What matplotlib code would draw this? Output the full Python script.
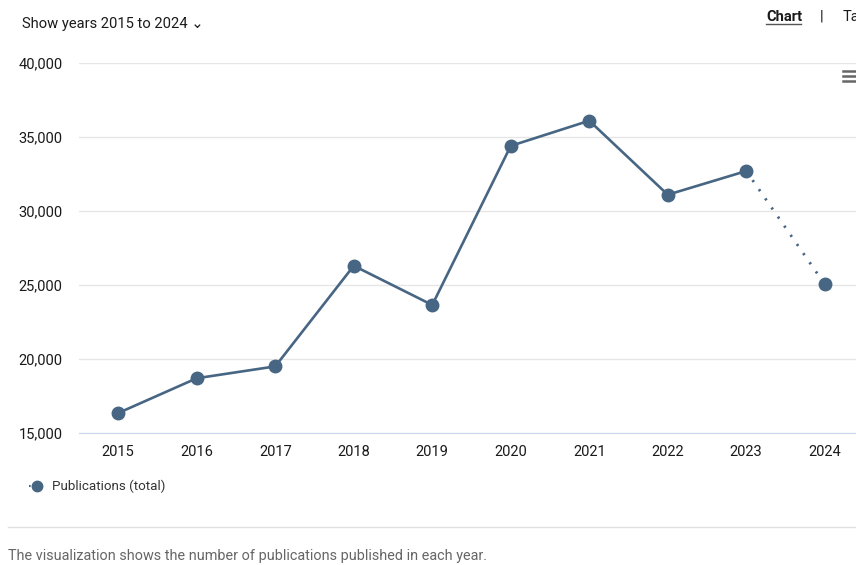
import matplotlib.pyplot as plt
from matplotlib.lines import Line2D

plt.rcParams['font.family'] = ['Roboto', 'DejaVu Sans']

# data
years = ["2015", "2016", "2017", "2018", "2019", "2020", "2021", "2022", "2023", "2024"]
publications = [16350, 18700, 19500, 26300, 23650, 34400, 36100, 31100, 32700, 25050]
y_ticks = [15000, 20000, 25000, 30000, 35000, 40000]

col = '#476683'
x = list(range(len(years)))

fig = plt.figure(figsize=(8.56, 5.65), dpi=100)
ax = fig.add_axes([79 / 856, 132 / 565, 785 / 856, 370 / 565])

# solid part up to 2023, dotted to the last (incomplete) year
ax.plot(x[:-1], publications[:-1], color=col, lw=1.9, zorder=3)
ax.plot(x[-2:], publications[-2:], color=col, lw=2, ls=(0, (0.8, 3.2)), zorder=3)
ax.plot(x, publications, 'o', color=col, ms=9, zorder=4)

ax.set_xlim(-0.5, len(years) - 0.5)
ax.set_ylim(15000, 40000)
ax.set_yticks(y_ticks)
ax.set_yticklabels([f"{v:,}" for v in y_ticks])
ax.set_xticks(x)
ax.set_xticklabels(years)
ax.grid(axis='y', color='#e6e6e6', lw=1)
ax.set_axisbelow(True)
for s in ['top', 'right', 'left']:
    ax.spines[s].set_visible(False)
ax.spines['bottom'].set_color('#ccd6eb')
ax.tick_params(axis='both', length=0, labelsize=10.5, colors='#1a1a1a')
ax.tick_params(axis='y', pad=12)
ax.tick_params(axis='x', pad=9)

# header
fig.text(22 / 856, 1 - 24 / 565, "Show years 2015 to 2024 \u2304", fontsize=10.6,
         color='#1a1a1a', va='center')
fig.text(766 / 856, 1 - 17 / 565, "Chart", fontsize=10.5, weight='bold',
         color='#1a1a1a', va='center')
fig.add_artist(Line2D([766 / 856, 801 / 856], [1 - 24 / 565] * 2, color='#555555', lw=1))
fig.text(820 / 856, 1 - 17 / 565, "|", fontsize=10.5, color='#1a1a1a', va='center')
fig.text(843 / 856, 1 - 17 / 565, "Table", fontsize=10.5, color='#1a1a1a', va='center')

# menu icon
for yy in [71, 76, 81]:
    fig.add_artist(Line2D([843 / 856, 856 / 856], [1 - yy / 565] * 2, color='#666666', lw=1.8))

# legend
fig.add_artist(Line2D([29 / 856, 45 / 856], [1 - 486 / 565] * 2, color=col, lw=1.5,
                      ls=(0, (0.8, 2))))
fig.add_artist(Line2D([37 / 856], [1 - 486 / 565], marker='o', color=col, ms=7.5))
fig.text(52 / 856, 1 - 486 / 565, "Publications (total)", fontsize=9.6,
         color='#333333', va='center')

# separator and footer
fig.add_artist(Line2D([8 / 856, 1.0], [1 - 527 / 565] * 2, color='#e0e0e0', lw=1))
fig.text(8 / 856, 1 - 556 / 565,
         "The visualization shows the number of publications published in each year.",
         fontsize=10.4, color='#666666', va='center')

fig.savefig("out.png", dpi=100)
